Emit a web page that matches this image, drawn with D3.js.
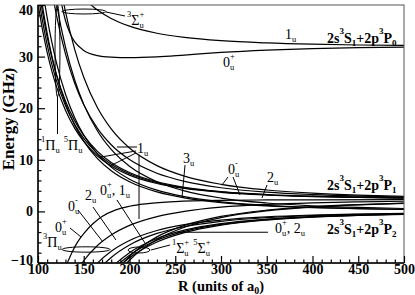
<!DOCTYPE html>
<html><head><meta charset="utf-8">
<script src="https://cdn.jsdelivr.net/npm/d3@7"></script>
<style>body{margin:0;background:#fff}svg{display:block;font-family:"Liberation Serif","DejaVu Serif","Times New Roman",serif}</style>
</head><body>
<svg id="c" width="415" height="295"></svg>
<script>
// ---------- data ----------
const xTicks = [100,150,200,250,300,350,400,450,500];
const yTicks = [-10,0,10,20,30,40];
const gridR = [100,105,110,115,120,130,140,150,165,180,200,230,260,300,350,400,450,500];

// 2s3S1+2p3P0 asymptote curves
const p0UpperR = [150,160,165,180,200,230,260,300,350,400,450,500];
const p0UpperE = [41.38,39.71,39.02,37.39,35.90,34.53,33.72,33.08,32.65,32.40,32.25,32.16];
const p0LowerR = [118,122,126,130,135,140,150,165,180,200,230,260,300,350,400,450,500];
const p0LowerE = [50,44.5,40,37,34.5,32.9,31.2,30.2,29.9,29.8,29.95,30.3,30.8,31.25,31.55,31.75,31.85];

// curves coming down from above (on gridR)
const p1RepA = [40.29,35.11,30.84,27.28,24.28,19.59,16.14,13.55,10.75,8.81,7.04,5.41,4.45,3.70,3.18,2.88,2.71,2.59];
const p1RepB = [42.29,36.84,32.34,28.59,25.44,20.50,16.87,14.14,11.19,9.15,7.29,5.58,4.57,3.77,3.22,2.91,2.73,2.61];
const p1RepC = [44.29,38.57,33.84,29.91,26.60,21.41,17.59,14.73,11.64,9.49,7.54,5.74,4.68,3.84,3.27,2.95,2.75,2.63];
const p1RepD = [64.29,55.85,48.87,43.06,38.17,30.51,24.88,20.66,16.09,12.92,10.04,7.39,5.82,4.58,3.73,3.26,2.97,2.79];
const p1RepE = [82.29,71.39,62.39,54.89,48.59,38.71,31.44,25.99,20.10,16.01,12.29,8.87,6.84,5.25,4.15,3.54,3.17,2.93];
const p2RepA = [46,39.73,34.56,30.25,26.62,20.94,16.76,13.63,10.24,7.89,5.75,3.78,2.62,1.70,1.07,0.72,0.51,0.37];
const p2RepB = [50,43.19,37.57,32.88,28.94,22.76,18.22,14.82,11.13,8.58,6.25,4.11,2.85,1.85,1.17,0.78,0.55,0.40];
const p2RepC = [70,60.47,52.59,46.03,40.51,31.86,25.51,20.74,15.58,12.01,8.75,5.75,3.98,2.59,1.63,1.09,0.77,0.56];

// curves coming up from below (on gridR)
const p1AttB = [-37.71,-32.26,-27.76,-24.01,-20.86,-15.92,-12.29,-9.56,-6.61,-4.57,-2.71,-1.00,0.01,0.81,1.36,1.67,1.85,1.97];
const p1AttC = [-85.71,-73.72,-63.82,-55.57,-48.64,-37.77,-29.78,-23.78,-17.30,-12.80,-8.71,-4.94,-2.72,-0.97,0.24,0.92,1.32,1.59];
const p1AttD = [-91.71,-78.91,-68.33,-59.52,-52.11,-40.50,-31.96,-25.56,-18.63,-13.83,-9.46,-5.44,-3.06,-1.19,0.10,0.82,1.26,1.54];
const p2AttA = [-45,-38.87,-33.81,-29.59,-26.04,-20.48,-16.40,-13.33,-10.02,-7.72,-5.63,-3.70,-2.56,-1.67,-1.05,-0.70,-0.50,-0.36];
const p2AttB = [-52,-44.92,-39.07,-34.19,-30.09,-23.67,-18.95,-15.41,-11.58,-8.92,-6.5,-4.27,-2.96,-1.92,-1.21,-0.81,-0.57,-0.42];
const p2AttC = [-64,-55.28,-48.08,-42.08,-37.04,-29.13,-23.32,-18.96,-14.25,-10.98,-8.0,-5.26,-3.64,-2.37,-1.49,-1.00,-0.70,-0.51];
const p2AttD = [-68,-58.74,-51.09,-44.71,-39.35,-30.95,-24.78,-20.15,-15.14,-11.66,-8.5,-5.59,-3.87,-2.52,-1.58,-1.06,-0.75,-0.54];
const p2AttE = [-72,-62.19,-54.09,-47.34,-41.67,-32.77,-26.24,-21.33,-16.03,-12.35,-9.0,-5.92,-4.10,-2.66,-1.68,-1.12,-0.79,-0.58];
const arcAR = [127,132,137,143,150,160,170,185,200,220,250,300,350,400,500];
const arcAE = [-12,-10,-8.0,-6.0,-4.3,-2.4,-1.0,0.3,1.0,1.5,1.9,2.15,2.22,2.25,2.27];

// annotation ellipses [R, E, halfWidthR, halfHeightE]
const ellipses = [[150.3,38.74,24,0.48],[121.3,31.1,2.7,8.9],[152.5,-7.38,26.2,0.52],[210.4,-7.48,12,0.58]];
// leader lines [R1,E1,R2,E2]
const leaders = [
 [174.3,38.64,195.1,37.87],[121.3,22.2,121.3,15.0],
 [186.3,12.48,208.2,12.48],[207.1,11.71,168.9,10.54],[207.1,11.32,178.7,8.8],[210.4,11.0,210.4,-1.47],
 [260.7,9.0,257.4,2.79],[307.7,6.67,301.1,5.12],[313.1,6.67,320.8,3.18],[350.3,5.12,344.8,2.60],
 [251.9,-4.04,351.4,-4.04],[186.3,2.21,216.9,-6.12],[160.1,0.85,185.2,-5.54],[143.7,0.27,171,-5.93],
 [135,-3.22,147,-4.96],[223.5,-7.48,244.3,-6.51]
];
// curve labels: position [R,E] + parts (m main, b sub, p sup, bp stacked sub/sup, gap)
const curveLabels = [
 [369.9,33.41,[['1','m'],['u','b']]],
 [302.2,27.98,[['0','m'],['u','bp','+']]],
 [197.3,36.12,[['3','p'],['Σ','m'],['u','bp','+']]],
 [103.3,11.9,[['1','p'],['Π','m'],['u','b'],[0.3,'gap'],['5','p'],['Π','m'],['u','b']]],
 [208.2,11.32,[['1','m'],['u','b']]],
 [258.5,9.38,[['3','m'],['u','b']]],
 [307.7,7.25,[['0','m'],['u','bp','-']]],
 [350.3,5.70,[['2','m'],['u','b']]],
 [359,-4.19,[['0','m'],['u','bp','+'],[', 2','m'],['u','b']]],
 [167.8,3.18,[['0','m'],['u','bp','+'],[', 1','m'],['u','b']]],
 [151.4,2.21,[['2','m'],['u','b']]],
 [132.8,0.08,[['0','m'],['u','bp','-']]],
 [118.6,-4.0,[['0','m'],['u','bp','+']]],
 [105.5,-6.9,[['3','p'],['Π','m'],['u','b']]],
 [246.4,-8.06,[['1','p'],['Σ','m'],['u','bp','+'],[0.3,'gap'],['5','p'],['Σ','m'],['u','bp','+']]]
];
const asymLabels = [
 [415.8,32.64,'0'],[415.8,4.15,'1'],[415.8,-4.38,'2']
];

// ---------- drawing ----------
const FONT = '"Liberation Serif","DejaVu Serif","Times New Roman",serif';
const svg = d3.select('#c');
const x = d3.scaleLinear().domain([100,500]).range([38,404]);
const y = d3.scaleLinear().domain([-10,40]).range([263,5]);

svg.append('defs').append('clipPath').attr('id','clip').append('rect')
  .attr('x',x(100)).attr('y',y(40)).attr('width',x(500)-x(100)).attr('height',y(-10)-y(40));

const gC = svg.append('g').attr('clip-path','url(#clip)');
const line = d3.line().x(d=>x(d[0])).y(d=>y(d[1])).curve(d3.curveMonotoneX);
const curves = [
 [p0UpperR,p0UpperE],[p0LowerR,p0LowerE],
 [gridR,p1RepA],[gridR,p1RepB],[gridR,p1RepC],[gridR,p1RepD],[gridR,p1RepE],
 [gridR,p2RepA],[gridR,p2RepB],[gridR,p2RepC],
 [gridR,p1AttB],[gridR,p1AttC],[gridR,p1AttD],
 [gridR,p2AttA],[gridR,p2AttB],[gridR,p2AttC],[gridR,p2AttD],[gridR,p2AttE],
 [arcAR,arcAE]
];
curves.forEach(([Rs,Es])=>{
  gC.append('path').attr('d',line(Rs.map((r,i)=>[r,Es[i]])))
    .attr('fill','none').attr('stroke','#000').attr('stroke-width',1.2);
});
ellipses.forEach(([R,E,dR,dE])=>{
  gC.append('ellipse').attr('cx',x(R)).attr('cy',y(E))
    .attr('rx',x(R+dR)-x(R)).attr('ry',y(E)-y(E+dE))
    .attr('fill','none').attr('stroke','#000').attr('stroke-width',1);
});
leaders.forEach(([r1,e1,r2,e2])=>{
  gC.append('line').attr('x1',x(r1)).attr('y1',y(e1)).attr('x2',x(r2)).attr('y2',y(e2))
    .attr('stroke','#000').attr('stroke-width',1);
});

// rich text helper
const gT = svg.append('g');
function put(t,px,py,size,bold){
  const el = gT.append('text').attr('x',px).attr('y',py).style('font-family',FONT)
    .attr('font-size',size).attr('font-weight',bold?'bold':'normal').attr('fill','#000').text(t);
  return el.node().getComputedTextLength();
}
function rich(px,py,parts,size,small,bold,supOff,subOff){
  let cx = px;
  parts.forEach(p=>{
    const [t,k,t2]=p;
    if(k==='m') cx += put(t,cx,py,size,bold);
    else if(k==='b') cx += put(t,cx,py+subOff,small,bold);
    else if(k==='p') cx += put(t,cx,py-supOff,small,bold);
    else if(k==='bp'){ const w1=put(t,cx,py+subOff,small,bold); const w2=put(t2,cx,py-supOff,small,bold); cx+=Math.max(w1,w2); }
    else if(k==='gap') cx += size*t;
  });
}
curveLabels.forEach(([R,E,parts])=>rich(x(R),y(E),parts,14,8.5,false,8,3));
asymLabels.forEach(([R,E,j])=>rich(x(R),y(E),[['2s ','m'],['3','p'],['S','m'],['1','b'],['+2p ','m'],['3','p'],['P','m'],[j,'b']],14,9,true,9,3));

// frame
svg.append('rect').attr('x',x(100)).attr('y',y(40)).attr('width',x(500)-x(100)).attr('height',y(-10)-y(40))
  .attr('fill','none').attr('stroke','#555').attr('stroke-width',1);
svg.append('line').attr('x1',x(100)).attr('x2',x(100)).attr('y1',y(40)).attr('y2',y(-10)).attr('stroke','#000').attr('stroke-width',1.5);
svg.append('line').attr('x1',x(100)).attr('x2',x(500)).attr('y1',y(-10)).attr('y2',y(-10)).attr('stroke','#000').attr('stroke-width',1.5);

// axes with inward ticks
function styleAxis(g){
  g.attr('font-family',null);
  g.select('.domain').remove();
  g.selectAll('line').attr('stroke','#000').attr('stroke-width',1.2);
  g.selectAll('text').style('font-family',FONT).attr('font-size',14).attr('font-weight','bold').attr('fill','#000');
}
const xMinor = d3.range(100,501,10).filter(v=>!xTicks.includes(v));
const yMinor = d3.range(-10,41,2).filter(v=>!yTicks.includes(v));
svg.append('g').attr('transform',`translate(0,${y(-10)})`)
  .call(d3.axisBottom(x).tickValues(xMinor).tickSize(-3.5).tickFormat('')).call(styleAxis);
svg.append('g').attr('transform',`translate(0,${y(-10)})`)
  .call(d3.axisBottom(x).tickValues(xTicks).tickSize(-7).tickPadding(1).tickFormat(d3.format('d'))).call(styleAxis);
svg.append('g').attr('transform',`translate(${x(100)},0)`)
  .call(d3.axisLeft(y).tickValues(yMinor).tickSize(-3.5).tickFormat('')).call(styleAxis);
const yAx = svg.append('g').attr('transform',`translate(${x(100)},0)`)
  .call(d3.axisLeft(y).tickValues(yTicks).tickSize(-7).tickPadding(5).tickFormat(d3.format('d'))).call(styleAxis);
yAx.selectAll('.tick').filter(d=>d===40).select('text').attr('dy','0.7em');
yAx.selectAll('.tick').filter(d=>d===-10).select('text').attr('dy','0.1em');

// axis titles
const xt = svg.append('text').attr('x',(x(100)+x(500))/2).attr('y',291).attr('text-anchor','middle')
  .style('font-family',FONT).attr('font-size',14.5).attr('font-weight','bold');
xt.append('tspan').text('R (units of a');
xt.append('tspan').attr('font-size',10).attr('dy',3).text('0');
xt.append('tspan').attr('dy',-3).text(')');
svg.append('text').attr('transform','translate(14,119) rotate(-90)').attr('text-anchor','middle')
  .style('font-family',FONT).attr('font-size',17).attr('font-weight','bold').text('Energy (GHz)');
</script>
</body></html>
